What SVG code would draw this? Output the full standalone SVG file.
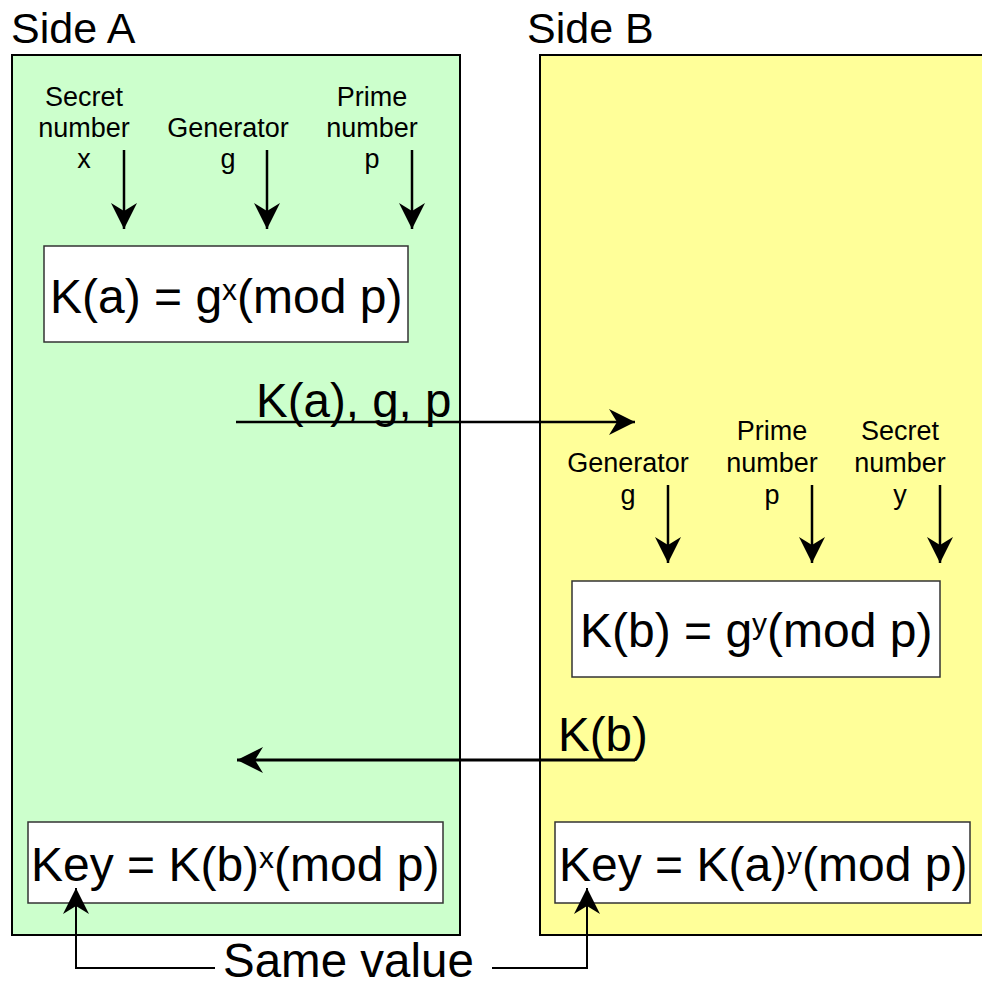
<svg xmlns="http://www.w3.org/2000/svg" width="982" height="981" viewBox="0 0 982 981">
<style>
text{font-family:"Liberation Sans",Arial,sans-serif;fill:#000}
.title{font-size:43px}
.lbl{font-size:27px;text-anchor:middle}
.big{font-size:48px}
.msg{font-size:47.5px}
.sup{font-size:30px}
.side{stroke:#000;stroke-width:2}
.box{fill:#fff;stroke:#333;stroke-width:1.5}
.ln{fill:none;stroke:#000;stroke-width:2.5}
.thk{fill:none;stroke:#000;stroke-width:3}
.thin{fill:none;stroke:#000;stroke-width:2}
</style>
<defs>
<marker id="ah" markerUnits="userSpaceOnUse" markerWidth="30" markerHeight="30" viewBox="-28 -15 30 30" refX="0" refY="0" orient="auto">
<path d="M0,0 L-26,-13 L-18,0 L-26,13 Z" fill="#000"/>
</marker>
</defs>
<rect width="982" height="981" fill="#fff"/>
<g id="sideA">
<rect class="side" x="12" y="55" width="448" height="880" fill="#ccffcc"/>
<text class="title" x="11" y="43">Side A</text>
</g>
<g id="sideB">
<rect class="side" x="540" y="55" width="450" height="880" fill="#ffff99"/>
<text class="title" x="527" y="43">Side B</text>
</g>
<g id="labelsA">
<text class="lbl" x="84" y="106">Secret</text>
<text class="lbl" x="84" y="137">number</text>
<text class="lbl" x="84" y="168">x</text>
<text class="lbl" x="228" y="137">Generator</text>
<text class="lbl" x="228" y="168">g</text>
<text class="lbl" x="372" y="106">Prime</text>
<text class="lbl" x="372" y="137">number</text>
<text class="lbl" x="372" y="168">p</text>
</g>
<g id="labelsB">
<text class="lbl" x="628" y="472">Generator</text>
<text class="lbl" x="628" y="504">g</text>
<text class="lbl" x="772" y="440">Prime</text>
<text class="lbl" x="772" y="472">number</text>
<text class="lbl" x="772" y="504">p</text>
<text class="lbl" x="900" y="440">Secret</text>
<text class="lbl" x="900" y="472">number</text>
<text class="lbl" x="900" y="504">y</text>
</g>
<g id="boxKa">
<rect class="box" x="44" y="246" width="364" height="96"/>
<text class="big" x="50" y="313">K(a) = g<tspan class="sup" dy="-13">x</tspan><tspan dy="13">(mod p)</tspan></text>
</g>
<g id="boxKb">
<rect class="box" x="572" y="581" width="368" height="96"/>
<text class="big" x="580" y="647">K(b) = g<tspan class="sup" dy="-13">y</tspan><tspan dy="13">(mod p)</tspan></text>
</g>
<g id="keyA">
<rect class="box" x="28" y="822" width="415" height="81"/>
<text class="big" x="31" y="881">Key = K(b)<tspan class="sup" dy="-13">x</tspan><tspan dy="13">(mod p)</tspan></text>
</g>
<g id="keyB">
<rect class="box" x="555" y="822" width="415" height="81"/>
<text class="big" x="559" y="881">Key = K(a)<tspan class="sup" dy="-13">y</tspan><tspan dy="13">(mod p)</tspan></text>
</g>
<g id="connectors">
<line class="ln" x1="124" y1="150" x2="124" y2="229" marker-end="url(#ah)"/>
<line class="ln" x1="267" y1="150" x2="267" y2="229" marker-end="url(#ah)"/>
<line class="ln" x1="412" y1="150" x2="412" y2="229" marker-end="url(#ah)"/>
<line class="ln" x1="668" y1="485" x2="668" y2="563" marker-end="url(#ah)"/>
<line class="ln" x1="812" y1="485" x2="812" y2="563" marker-end="url(#ah)"/>
<line class="ln" x1="940" y1="485" x2="940" y2="563" marker-end="url(#ah)"/>
<line class="ln" x1="236" y1="422" x2="635" y2="422" marker-end="url(#ah)"/>
<text class="msg" x="256" y="417">K(a), g, p</text>
<line class="thk" x1="635" y1="760" x2="237" y2="760" marker-end="url(#ah)"/>
<text class="msg" x="558" y="751">K(b)</text>
<polyline class="thin" points="215,968 76,968 76,888" marker-end="url(#ah)"/>
<polyline class="thin" points="492,968 587,968 587,888" marker-end="url(#ah)"/>
<text class="msg" x="223" y="977">Same value</text>
</g>
</svg>
